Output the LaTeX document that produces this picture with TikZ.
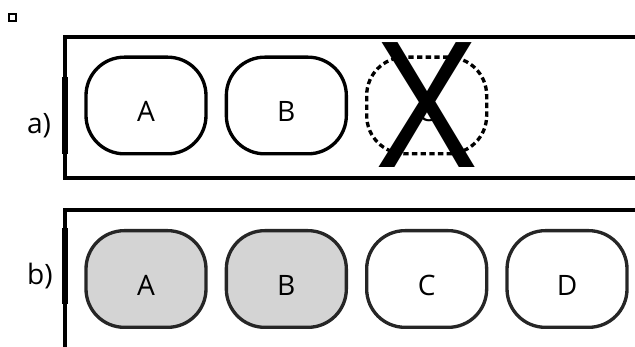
\documentclass[tikz,border=0pt]{standalone}
\usepackage{fontspec}
\setmainfont{Open Sans}
\newfontfamily\crossfont{Liberation Sans}
\usetikzlibrary{positioning}

\begin{document}
\begin{tikzpicture}[x=0.03cm,y=-0.03cm,node distance=0.51cm,
   every node/.style={font=\fontsize{24}{28}\selectfont},
   setbox/.style={draw,line width=0.1cm,rounded corners=1.15cm,
     minimum width=3.6cm,minimum height=2.9cm,inner sep=0pt,
     text height=0.99cm,text depth=0pt},
   lostbox/.style={setbox,dashed,dash pattern=on 0.16cm off 0.1cm},
   keptbox/.style={setbox,fill=black!17,draw=black!85},
   newbox/.style={setbox,draw=black!85},
   frame/.style={line width=0.1cm}]
  \useasboundingbox (0,0) rectangle (635,347);
  \clip (0,0) rectangle (635,347);
  \draw[line width=0.06cm] (9,14) rectangle (16,21);
  % a)
  \draw[frame] (645,37) -- (65,37) -- (65,178) -- (645,178);
  \draw[line width=0.16cm] (65,77) -- (65,154);
  \node (la) at (39,126) {a)};
  \node[setbox] (a1) at (146,105.5) {A};
  \node[setbox] (b1) [right=of a1] {B};
  \node[lostbox] (c1) [right=of b1] {C};
  \node[font=\crossfont\fontsize{155}{155}\selectfont,inner sep=0pt] (x1) at (c1.center) {\scalebox{0.85}[1]{X}};
  % b)
  \draw[frame] (645,210) -- (65,210) -- (65,355);
  \draw[line width=0.16cm] (65,228) -- (65,304);
  \node (lb) at (40,276) {b)};
  \node[keptbox] (a2) at (146,279) {A};
  \node[keptbox] (b2) [right=of a2] {B};
  \node[newbox] (c2) [right=of b2] {C};
  \node[newbox] (d2) [right=of c2] {D};
\end{tikzpicture}
\end{document}
